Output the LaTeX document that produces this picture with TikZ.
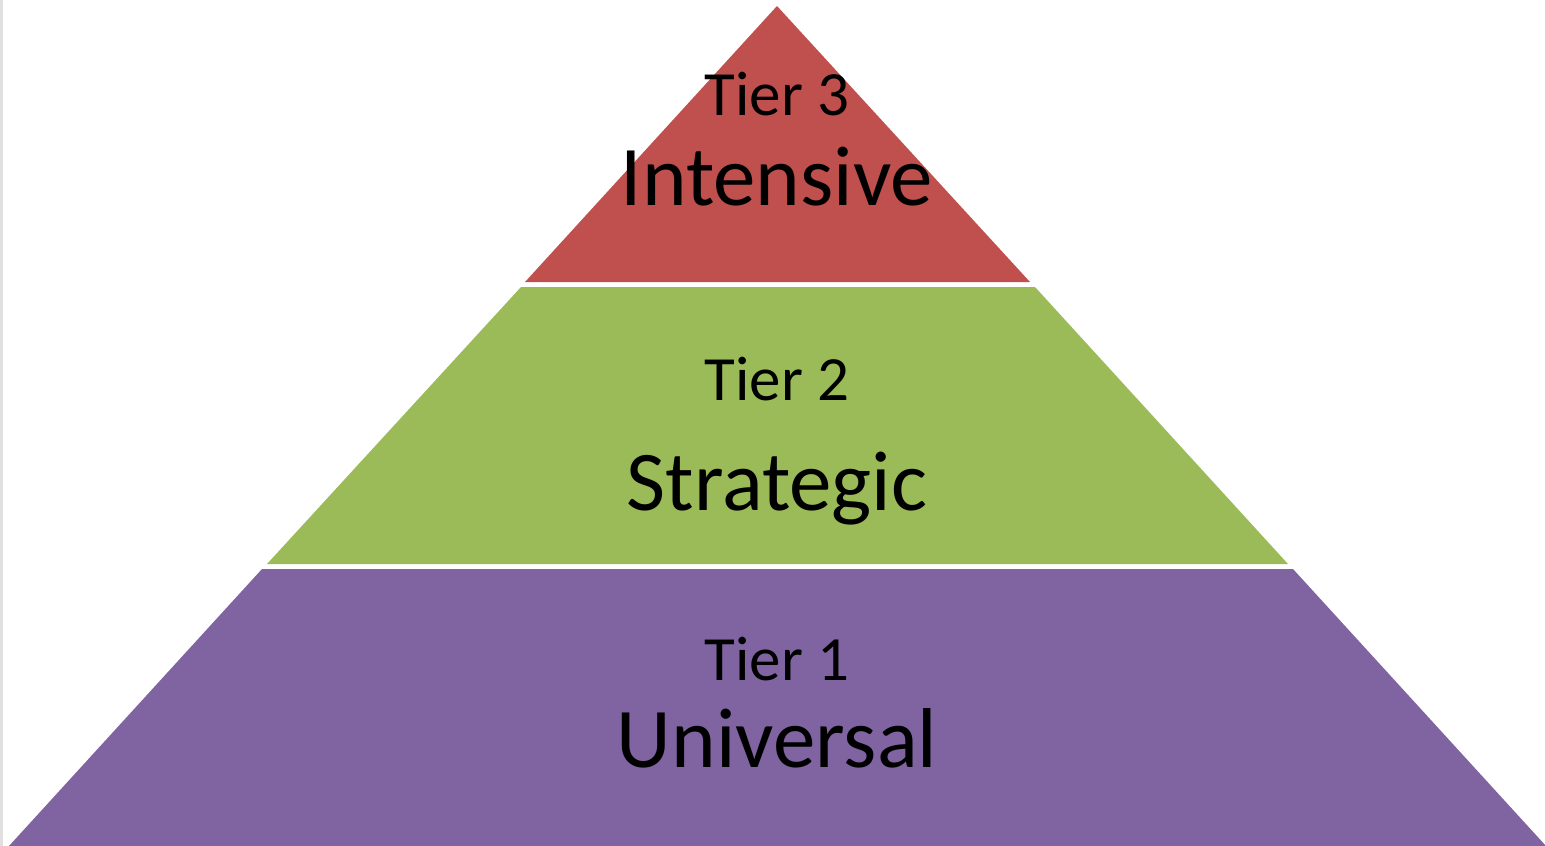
\documentclass[tikz,border=0pt]{standalone}
\usepackage{fontspec}
\setmainfont{Carlito}
\definecolor{tierred}{HTML}{C0504D}
\definecolor{tiergreen}{HTML}{9BBB59}
\definecolor{tierpurple}{HTML}{8064A2}
\begin{document}
\begin{tikzpicture}[x=1pt,y=-1pt,
  small/.style={anchor=base,inner sep=0pt,font=\fontsize{63}{63}\selectfont},
  big/.style={anchor=base,inner sep=0pt,font=\fontsize{85}{85}\selectfont}]
\useasboundingbox (0,0) rectangle (1545,846);
\fill[white] (0,0) rectangle (1545,846);
\fill[black!12] (0,0) rectangle (2.5,846);
% tiers
\fill[tierpurple] (262,569) -- (1293,569) -- (1546,846) -- (9,846) -- cycle;
\fill[tiergreen] (521,287) -- (1035,287) -- (1288,564) -- (267,564) -- cycle;
\fill[tierred] (777,6) -- (1030,282) -- (525,282) -- cycle;
% labels
\node[small] (t3) at (777,115) {Tier 3};
\node[big] (n3) at (777,205) {Intensive};
\node[small] (t2) at (777,400) {Tier 2};
\node[big] (n2) at (777,510) {Strategic};
\node[small] (t1) at (777,680) {Tier 1};
\node[big] (n1) at (777,767) {Universal};
\end{tikzpicture}
\end{document}
